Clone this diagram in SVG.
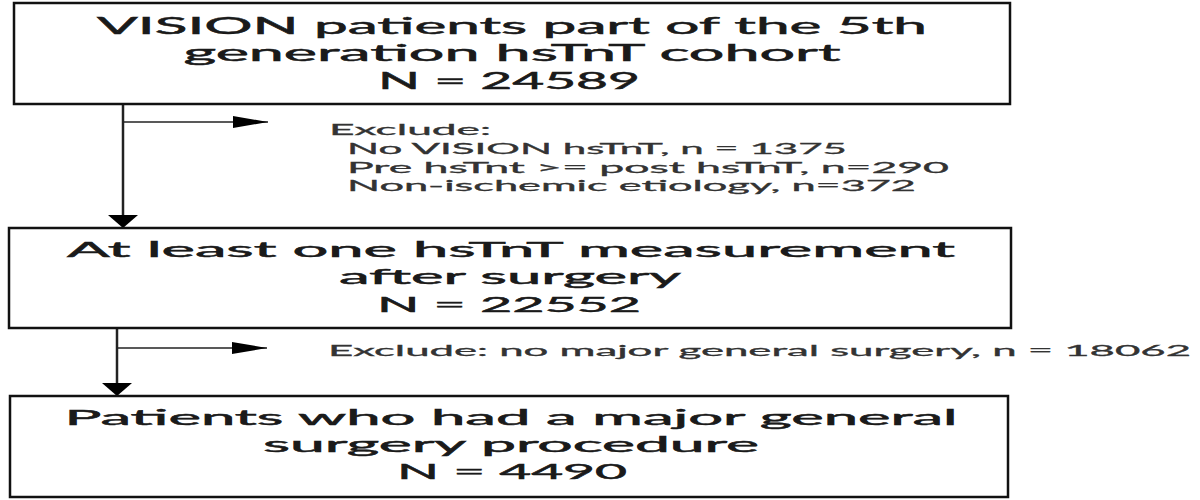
<svg xmlns="http://www.w3.org/2000/svg" width="1200" height="500" viewBox="0 0 1200 500">
<style>
.box{fill:#fff;stroke:#111;stroke-width:2.5}
.t{font-family:Lato,"Open Sans","DejaVu Sans",sans-serif;font-size:21px;fill:#1a1a1a;stroke:#1a1a1a;stroke-width:0.5;text-anchor:middle}
.t1{font-size:22.5px}
.s{font-family:Lato,"Open Sans","DejaVu Sans",sans-serif;font-size:15px;fill:#333;stroke:#333;stroke-width:0.3}
.v{stroke:#222;stroke-width:2.5;fill:none}
.h{stroke:#222;stroke-width:1.3;fill:none}
</style>
<defs>
<marker id="av" markerUnits="userSpaceOnUse" markerWidth="14" markerHeight="30" refX="13" refY="15" orient="auto" viewBox="0 0 14 30"><path d="M0,0 L13,15 L0,30 z" fill="#000"/></marker>
<marker id="ah" markerUnits="userSpaceOnUse" markerWidth="36" markerHeight="12" refX="35" refY="6" orient="auto" viewBox="0 0 36 12"><path d="M0,0 L35,6 L0,12 z" fill="#000"/></marker>
</defs>
<rect width="1200" height="500" fill="#fff"/>
<g id="connectors">
<line class="v" x1="123" y1="104" x2="123" y2="228" marker-end="url(#av)"/>
<line class="h" x1="123" y1="122" x2="268" y2="122" marker-end="url(#ah)"/>
<line class="v" x1="117" y1="328" x2="117" y2="396" marker-end="url(#av)"/>
<line class="h" x1="117" y1="348" x2="267" y2="348" marker-end="url(#ah)"/>
</g>
<g id="box1">
<rect class="box" x="14" y="3" width="996" height="101"/>
<text class="t t1" x="512" y="34" textLength="830" lengthAdjust="spacingAndGlyphs">VISION patients part of the 5th</text>
<text class="t t1" x="512" y="61" textLength="657" lengthAdjust="spacingAndGlyphs">generation hsTnT cohort</text>
<text class="t t1" x="509" y="89" textLength="262" lengthAdjust="spacingAndGlyphs">N = 24589</text>
</g>
<g id="exclude1">
<text class="s" x="329" y="135" textLength="162" lengthAdjust="spacingAndGlyphs">Exclude:</text>
<text class="s" x="347" y="154" textLength="500" lengthAdjust="spacingAndGlyphs">No VISION hsTnT, n = 1375</text>
<text class="s" x="347" y="173" textLength="602" lengthAdjust="spacingAndGlyphs">Pre hsTnt &gt;= post hsTnT, n=290</text>
<text class="s" x="347" y="191" textLength="569" lengthAdjust="spacingAndGlyphs">Non-ischemic etiology, n=372</text>
</g>
<g id="box2">
<rect class="box" x="9" y="228" width="1002" height="100"/>
<text class="t" x="511" y="257" textLength="888" lengthAdjust="spacingAndGlyphs">At least one hsTnT measurement</text>
<text class="t" x="510" y="284" textLength="342" lengthAdjust="spacingAndGlyphs">after surgery</text>
<text class="t" x="509" y="312" textLength="264" lengthAdjust="spacingAndGlyphs">N = 22552</text>
</g>
<g id="exclude2">
<text class="s" x="328" y="356" textLength="863" lengthAdjust="spacingAndGlyphs">Exclude: no major general surgery, n = 18062</text>
</g>
<g id="box3">
<rect class="box" x="10" y="396" width="998" height="101"/>
<text class="t" x="511" y="425" textLength="893" lengthAdjust="spacingAndGlyphs">Patients who had a major general</text>
<text class="t" x="511" y="452" textLength="496" lengthAdjust="spacingAndGlyphs">surgery procedure</text>
<text class="t" x="512" y="479" textLength="230" lengthAdjust="spacingAndGlyphs">N = 4490</text>
</g>
</svg>
